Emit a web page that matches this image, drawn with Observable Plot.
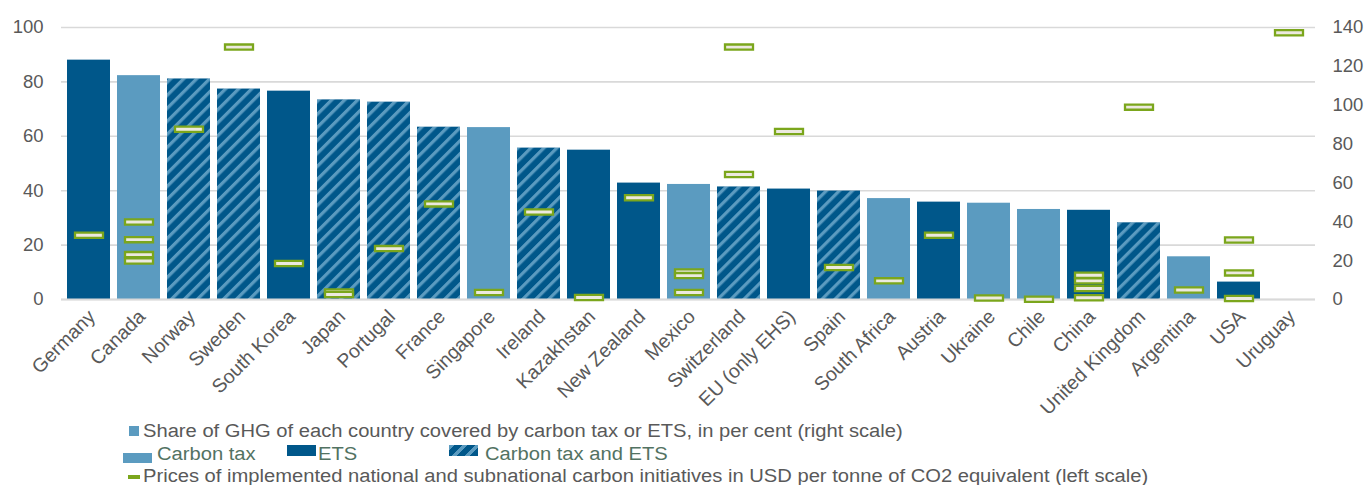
<!DOCTYPE html>
<html>
<head>
<meta charset="utf-8">
<script src="https://cdn.jsdelivr.net/npm/d3@7"></script>
<script src="https://cdn.jsdelivr.net/npm/@observablehq/plot@0.6"></script>
<style>
  html, body { margin: 0; padding: 0; background: #fff; }
  #wrap { position: relative; width: 1369px; height: 485px; font-family: "Liberation Sans", Arial, sans-serif; overflow: hidden; }
  .lg { position: absolute; font-size: 18px; line-height: 17px; white-space: nowrap; color: #595959; transform: scaleX(1.12); transform-origin: 0 50%; }
  .lg2 { color: #527262; }
  .sw { position: absolute; }
</style>
</head>
<body>
<div id="wrap">
  <div id="chart"></div>
  <div class="sw" style="left:129px;top:426px;width:10px;height:10px;background:#5b9bc0"></div>
  <div class="lg" style="left:143px;top:422.5px">Share of GHG of each country covered by carbon tax or ETS, in per cent (right scale)</div>
  <div class="sw" style="left:123px;top:453px;width:29px;height:10px;background:#5b9bc0"></div>
  <div class="lg lg2" style="left:157px;top:445.5px">Carbon tax</div>
  <div class="sw" style="left:287px;top:445px;width:29px;height:11px;background:#00578a"></div>
  <div class="lg lg2" style="left:318px;top:445.5px">ETS</div>
  <div class="sw" style="left:449px;top:445px;width:29px;height:11px;background:repeating-linear-gradient(-45deg,#00578a 0px,#00578a 6px,#5b9bc0 6px,#5b9bc0 9.2px)"></div>
  <div class="lg lg2" style="left:485px;top:445.5px">Carbon tax and ETS</div>
  <div class="sw" style="left:128px;top:475px;width:12px;height:4px;background:#7ba61c"></div>
  <div class="lg" style="left:143px;top:467.5px">Prices of implemented national and subnational carbon initiatives in USD per tonne of CO2 equivalent (left scale)</div>
</div>
<script>
const countries = ["Germany","Canada","Norway","Sweden","South Korea","Japan","Portugal","France","Singapore","Ireland","Kazakhstan","New Zealand","Mexico","Switzerland","EU (only EHS)","Spain","South Africa","Austria","Ukraine","Chile","China","United Kingdom","Argentina","USA","Uruguay"];
const share = [88.0, 82.3, 81.0, 77.3, 76.6, 73.3, 72.5, 63.3, 63.2, 55.6, 54.9, 42.8, 42.3, 41.3, 40.6, 39.8, 37.1, 35.8, 35.4, 33.1, 32.8, 28.1, 15.7, 6.4, null];
const instrument = ["ETS","Carbon tax","Carbon tax and ETS","Carbon tax and ETS","ETS","Carbon tax and ETS","Carbon tax and ETS","Carbon tax and ETS","Carbon tax","Carbon tax and ETS","ETS","ETS","Carbon tax","Carbon tax and ETS","ETS","Carbon tax and ETS","Carbon tax","ETS","Carbon tax","Carbon tax","ETS","Carbon tax and ETS","Carbon tax","ETS","Carbon tax"];
const priceCountry = ["Germany","Canada","Canada","Canada","Canada","Norway","Sweden","South Korea","Japan","Japan","Portugal","France","Singapore","Ireland","Kazakhstan","New Zealand","Mexico","Mexico","Mexico","Switzerland","Switzerland","EU (only EHS)","Spain","South Africa","Austria","Ukraine","Chile","China","China","China","China","United Kingdom","Argentina","USA","USA","USA","Uruguay"];
const priceValue = [33.1, 39.9, 30.8, 23.1, 19.8, 87.6, 129.9, 18.5, 3.9, 2.6, 26.2, 49.2, 3.6, 45.0, 1.0, 52.4, 14.2, 12.3, 3.6, 129.9, 64.3, 86.5, 16.5, 9.6, 33.1, 0.8, 0.1, 12.5, 9.6, 5.7, 0.9, 99.0, 4.9, 30.6, 13.7, 0.5, 137.3];
const leftTicks = [0, 20, 40, 60, 80, 100];
const rightTicks = [0, 20, 40, 60, 80, 100, 120, 140];
const rightMax = 140;

const bars = countries.map((c, i) => ({country: c, share: share[i], type: instrument[i]})).filter(d => d.share != null);
const prices = priceCountry.map((c, i) => ({country: c, price: priceValue[i]}));
const toLeft = p => p * 100 / rightMax;

const marker = { draw(ctx) { ctx.rect(-14, -2.6, 28, 5.2); } };
const colorOf = {"Carbon tax": "#5b9bc0", "ETS": "#00578a", "Carbon tax and ETS": "url(#hatch)"};

const plot = Plot.plot({
  width: 1369,
  height: 420,
  marginLeft: 61,
  marginRight: 54,
  marginTop: 27,
  marginBottom: 121,
  style: {fontFamily: "Liberation Sans, Arial, sans-serif", background: "#fff"},
  x: {domain: countries, paddingInner: 0.14, paddingOuter: 0.07, axis: null},
  y: {domain: [0, 100], axis: null},
  marks: [
    Plot.ruleY(leftTicks, {stroke: "#d9d9d9", strokeWidth: 1.6}),
    Plot.barY(bars.filter(d => d.type === "Carbon tax"), {x: "country", y: "share", fill: colorOf["Carbon tax"]}),
    Plot.barY(bars.filter(d => d.type === "ETS"), {x: "country", y: "share", fill: colorOf["ETS"]}),
    Plot.barY(bars.filter(d => d.type === "Carbon tax and ETS"), {x: "country", y: "share", fill: "#00578a"}),
    Plot.barY(bars.filter(d => d.type === "Carbon tax and ETS"), {x: "country", y: "share", fill: colorOf["Carbon tax and ETS"]}),
    Plot.ruleY([0], {stroke: "#d9d9d9", strokeWidth: 2}),
    Plot.dot(prices, {x: "country", y: d => toLeft(d.price), symbol: marker, fill: "#ece9df", stroke: "#7ba61c", strokeWidth: 2.3}),
    Plot.axisY(leftTicks, {anchor: "left", label: null, tickSize: 0, tickPadding: 18, fontSize: 18.5, color: "#595959"}),
    Plot.axisY(rightTicks.map(toLeft), {anchor: "right", label: null, tickSize: 0, tickPadding: 17, fontSize: 18.5, color: "#595959", tickFormat: d => Math.round(d * rightMax / 100), textAnchor: "start"}),
    Plot.text(countries, {x: d => d, y: 0, text: d => d, rotate: -45, textAnchor: "end", dx: 3, dy: 14, fontSize: 19.5, fill: "#595959"})
  ]
});

const ns = "http://www.w3.org/2000/svg";
const defs = document.createElementNS(ns, "defs");
defs.innerHTML = `<pattern id="hatch" patternUnits="userSpaceOnUse" width="9.2" height="9.2" patternTransform="rotate(45)">
  <rect width="9.2" height="9.2" fill="#00578a"/><rect x="0" width="3.2" height="9.2" fill="#5b9bc0"/></pattern>`;
plot.insertBefore(defs, plot.firstChild);
document.getElementById("chart").appendChild(plot);
</script>
</body>
</html>
